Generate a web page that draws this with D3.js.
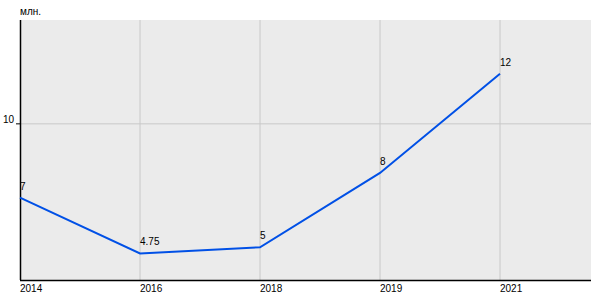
<!DOCTYPE html>
<html>
<head>
<meta charset="utf-8">
<script src="https://cdn.jsdelivr.net/npm/d3@7"></script>
<style>
  body { margin: 0; background: #fff; }
  text { font-family: "Liberation Sans", Arial, sans-serif; font-size: 10px; fill: #000; }
</style>
</head>
<body>
<svg width="600" height="300"></svg>
<script>
var years = ["2014", "2016", "2018", "2019", "2021"];
var values = [7, 4.75, 5, 8, 12];
var labels = ["7", "4.75", "5", "8", "12"];
var yTicks = [10];
var unit = "млн.";

var svg = d3.select("svg"),
  margin = {top: 20, right: 9, bottom: 20, left: 20},
  width = +svg.attr("width") - margin.left - margin.right,
  height = +svg.attr("height") - margin.top - margin.bottom,
  g = svg.append("g").attr("transform", "translate(" + margin.left + "," + margin.top + ")");

// categories sit 120px apart, the last slot is left empty
var x = d3.scalePoint()
  .domain(years.concat([""]))
  .range([0, 600]);

var y = d3.scaleLinear()
  .domain([3.68, 14.17])
  .range([height, 0]);

g.append("rect")
  .attr("width", width)
  .attr("height", height)
  .attr("fill", "#ebebeb");

// grid
g.append("g")
  .selectAll("line")
  .data(years.slice(1))
  .enter().append("line")
    .attr("x1", function(d) { return x(d); })
    .attr("x2", function(d) { return x(d); })
    .attr("y1", 0)
    .attr("y2", height)
    .attr("stroke", "#c8c8c8");

g.append("g")
  .selectAll("line")
  .data(yTicks)
  .enter().append("line")
    .attr("x1", 0)
    .attr("x2", width)
    .attr("y1", function(d) { return y(d) + 0.5; })
    .attr("y2", function(d) { return y(d) + 0.5; })
    .attr("stroke", "#c8c8c8");

// axes
g.append("line")
  .attr("x1", 0.5).attr("x2", 0.5)
  .attr("y1", 0).attr("y2", height)
  .attr("stroke", "#000").attr("stroke-width", 1.5);

g.append("line")
  .attr("x1", 0).attr("x2", width)
  .attr("y1", height + 0.5).attr("y2", height + 0.5)
  .attr("stroke", "#000").attr("stroke-width", 1.5);

var yt = g.append("g")
  .selectAll("g")
  .data(yTicks)
  .enter().append("g")
    .attr("transform", function(d) { return "translate(0," + y(d) + ")"; });

yt.append("line")
  .attr("x1", -4).attr("x2", 0)
  .attr("y1", 0.5).attr("y2", 0.5)
  .attr("stroke", "#000");

yt.append("text")
  .attr("x", -6)
  .attr("y", 0)
  .attr("text-anchor", "end")
  .text(function(d) { return d; });

g.append("g")
  .selectAll("text")
  .data(years)
  .enter().append("text")
    .attr("x", function(d) { return x(d); })
    .attr("y", height + 12)
    .text(function(d) { return d; });

svg.append("text")
  .attr("x", 20)
  .attr("y", 15)
  .text(unit);

// series
var line = d3.line()
  .x(function(d, i) { return x(years[i]); })
  .y(function(d) { return y(d); });

g.append("path")
  .datum(values)
  .attr("fill", "none")
  .attr("stroke", "#0050e6")
  .attr("stroke-width", 2)
  .attr("d", line);

g.append("g")
  .selectAll("text")
  .data(values)
  .enter().append("text")
    .attr("x", function(d, i) { return x(years[i]); })
    .attr("y", function(d) { return y(d) - 8; })
    .text(function(d, i) { return labels[i]; });
</script>
</body>
</html>
